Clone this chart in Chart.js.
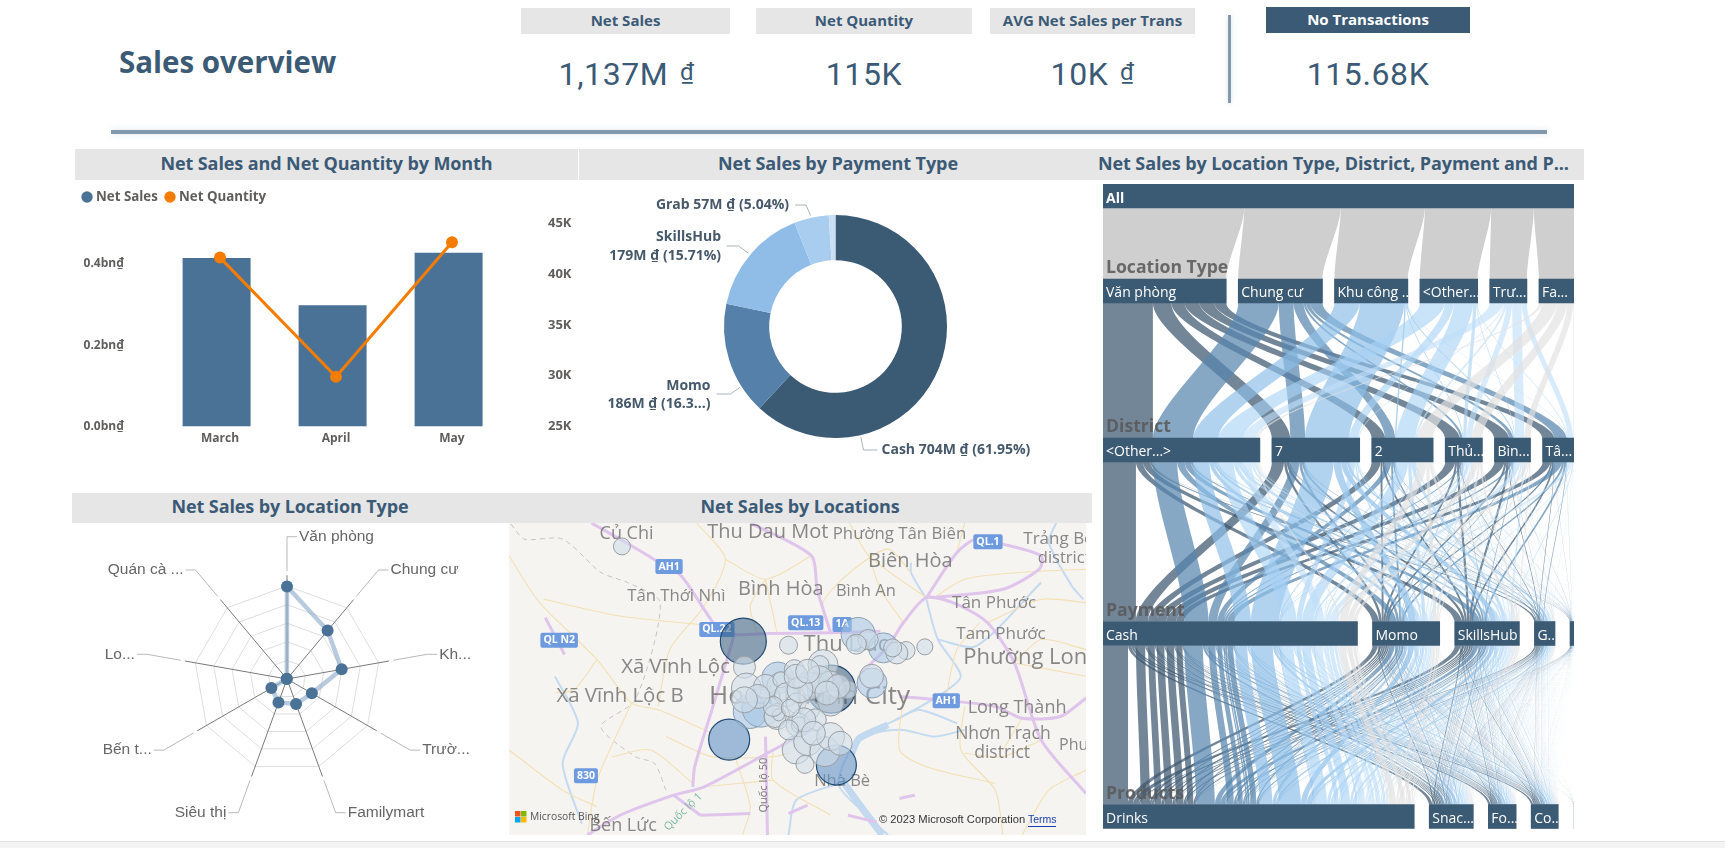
<!DOCTYPE html>
<html><head><meta charset="utf-8">
<script src="https://cdn.jsdelivr.net/npm/chart.js@4"></script>
<style>
html,body{margin:0;padding:0;background:#fff;width:1725px;height:848px;overflow:hidden}
body{position:relative;font-family:"Open Sans",sans-serif}
.a{position:absolute;white-space:nowrap}
.hd{background:#e6e6e6;color:#3b5a76;font-weight:700;text-align:center;font-size:18px;display:flex;align-items:center;justify-content:center;letter-spacing:-.1px;padding-bottom:4px;box-sizing:border-box}
.kh{background:#e6e6e6;color:#3b5a76;font-weight:700;text-align:center;font-size:15px;display:flex;align-items:center;justify-content:center;padding-bottom:2px;box-sizing:border-box}
.kv{color:#3b5a76;font-family:Roboto,sans-serif;font-size:32px;text-align:center;letter-spacing:.6px}
.kv span{font-size:24px;position:relative;top:-5px;margin-left:3px}
canvas{position:absolute;display:block}
</style></head><body>
<div class="a" style="left:119px;top:41px;color:#3b5a76;font-weight:700;font-size:29.5px">Sales overview</div>
<div class="a kh" style="left:521px;top:8px;width:209px;height:26px">Net Sales</div>
<div class="a kh" style="left:756px;top:8px;width:216px;height:26px">Net Quantity</div>
<div class="a kh" style="left:990px;top:8px;width:205px;height:26px">AVG Net Sales per Trans</div>
<div class="a kh" style="left:1266px;top:7px;width:204px;height:26px;background:#3b5a76;color:#fff">No Transactions</div>
<div class="a kv" style="left:521px;top:55px;width:209px;padding-left:2px;box-sizing:border-box">1,137M <span>₫</span></div>
<div class="a kv" style="left:756px;top:55px;width:216px">115K</div>
<div class="a kv" style="left:990px;top:55px;width:205px;box-sizing:border-box">10K <span>₫</span></div>
<div class="a kv" style="left:1266px;top:55px;width:204px">115.68K</div>
<div class="a" style="left:1228px;top:15px;width:3px;height:88px;background:#8299ad;box-shadow:0 0 5px rgba(130,153,173,.35)"></div>
<div class="a" style="left:111px;top:130px;width:1436px;height:4px;background:#8299ad;box-shadow:0 0 7px rgba(130,153,173,.3)"></div>
<div class="a hd" style="left:75px;top:149px;width:503px;height:31px">Net Sales and Net Quantity by Month</div>
<div class="a hd" style="left:579px;top:149px;width:513px;height:31px;padding-left:5px">Net Sales by Payment Type</div>
<div class="a hd" style="left:1091px;top:149px;width:493px;height:31px;justify-content:flex-start;padding-left:7px">Net Sales by Location Type, District, Payment and P...</div>
<div class="a hd" style="left:72px;top:493px;width:436px;height:30px">Net Sales by Location Type</div>
<div class="a hd" style="left:508px;top:493px;width:584px;height:30px">Net Sales by Locations</div>
<div class="a" style="left:0;top:841px;width:1725px;height:7px;background:#f3f3f3;border-top:1px solid #e2e2e2"></div>

<canvas id="combo" style="left:75px;top:185px" width="503" height="266"></canvas>
<canvas id="donut" style="left:580px;top:185px" width="510" height="280"></canvas>
<canvas id="radar" style="left:72px;top:523px" width="430" height="317"></canvas>
<canvas id="map" style="left:509px;top:523px" width="577" height="312"></canvas>
<canvas id="sankey" style="left:1103px;top:184px" width="471" height="645"></canvas>

<script>
/* ---------- data ---------- */
const months=['March','April','May'];
const netSalesBn=[0.414,0.298,0.427];
const netQuantity=[41600,29900,43100];

const paymentTypes=['Cash','Momo','SkillsHub','Grab','Other'];
const paymentSales=[704,186,179,57,11];
const paymentColors=['#3b5a74','#5580a9','#8fbde8','#a9cdef','#c9dff4'];

const locationTypes=['Văn phòng','Chung cư','Khu công nghiệp','Trường học','Familymart','Siêu thị','Bến tàu','Lobby','Quán cà phê'];
const locationShort=['Văn phòng','Chung cư','Kh...','Trườ...','Familymart','Siêu thị','Bến t...','Lo...','Quán cà ...'];
const locationSales=[338,231,203,105,97,91,66,1,1];
const radarTicks=[0,68,136,204,272,340];

const treeLocation=['Văn phòng','Chung cư','Khu công ...','<Other...','Trư...','Fa...'];
const treeLocationSales=[341,233,203,160,103,97];
const treeDistrict=['<Other...>','7','2','Thủ...','Bìn...','Tâ...'];
const treeDistrictSales=[434,243,170,103,100,87];
const treePayment=['Cash','Momo','SkillsHub','G...',''];
const treePaymentSales=[704,186,179,57,11];
const treeProduct=['Drinks','Snac...','Fo...','Co...',''];
const treeProductSales=[861,122,77,75,2];
const locationDistrict=[
 [138,51,37,41,41,33],
 [112,41,28,7,11,34],
 [70,123,4,2,3,1],
 [69,25,53,9,2,2],
 [37,3,6,16,26,15],
 [8,0,42,28,17,2]];
const locationPayment=[
 [.66,.14,.15,.04,.01],
 [.60,.18,.16,.05,.01],
 [.64,.17,.13,.05,.01],
 [.60,.17,.17,.05,.01],
 [.58,.18,.18,.05,.01],
 [.55,.20,.18,.06,.01]];
const paymentProduct=[
 [.76,.105,.07,.063,.002],
 [.75,.11,.065,.073,.002],
 [.75,.11,.07,.068,.002],
 [.74,.12,.06,.078,.002],
 [.78,.09,.06,.068,.002]];

/* map: coordinates in map units */
const bubblesDark=[{x:622,y:455,r:23},{x:852,y:598,r:24}];
const bubblesEdge=[{x:585,y:749,r:20.5},{x:865,y:825,r:20}];
const bubblesMid=[{x:922,y:435,r:17},{x:640,y:665,r:17},{x:668,y:655,r:19},{x:988,y:475,r:15},{x:712,y:565,r:16},{x:958,y:580,r:15}];
const bubblesPale=[
{x:305,y:172,r:8.5},{x:740,y:467,r:9},{x:1096,y:472,r:8},{x:1047,y:483,r:9},{x:1023,y:490,r:11},{x:1012,y:475,r:9},
{x:948,y:450,r:10},{x:917,y:464,r:10},{x:625,y:533,r:11},{x:957,y:560,r:12},
{x:630,y:595,r:15},{x:720,y:590,r:14},{x:680,y:590,r:12},{x:720,y:570,r:8},{x:755,y:540,r:10},
{x:830,y:525,r:15},{x:822,y:525,r:9},{x:800,y:585,r:12},{x:790,y:590,r:14},{x:850,y:580,r:12},{x:895,y:600,r:9},
{x:735,y:615,r:12},{x:760,y:640,r:10},{x:850,y:640,r:13},{x:795,y:660,r:10},{x:710,y:680,r:13},{x:705,y:680,r:11},
{x:714,y:675,r:6},{x:765,y:705,r:12},{x:768,y:705,r:8},{x:810,y:690,r:11},{x:760,y:780,r:14},{x:790,y:755,r:14},
{x:835,y:785,r:15},{x:850,y:740,r:14},{x:875,y:760,r:12},{x:783,y:823,r:9},{x:780,y:690,r:12},{x:820,y:570,r:14},
{x:870,y:590,r:12},{x:700,y:650,r:10},{x:660,y:620,r:12},{x:745,y:655,r:9},{x:625,y:630,r:13},{x:770,y:600,r:13},
{x:760,y:560,r:12},{x:790,y:545,r:12},{x:840,y:610,r:12},{x:740,y:720,r:10},{x:805,y:730,r:12}];
const waterways=[
 [[1100,330],[1130,450],[1190,560],[1130,620],[1020,690],[920,750],[870,880],[930,960],[1000,1034]],
 [[1100,330],[1060,250],[1060,220]],
 [[920,750],[960,730],[1040,720],[1120,740],[1200,720]],
 [[870,880],[760,930],[740,1034]],
 [[130,560],[190,700],[150,820],[200,1000]],
 [[1440,100],[1420,160],[1480,290],[1510,330]],
 [[1020,690],[1080,660],[1180,700]],
 [[1130,450],[1230,470],[1400,280]]];
const wideWater=[[[905,790],[925,745],[1000,705]],[[880,870],[930,950],[985,1034]]];
const highways=[
 [[225,102],[330,170],[395,215],[460,260],[550,410],[590,435],[690,432],[850,430],[980,425]],
 [[600,430],[540,660],[495,830],[490,890]],
 [[930,550],[1000,470],[1040,400],[1100,325],[1180,345],[1260,400],[1330,520],[1400,750],[1517,910]],
 [[1100,325],[1180,190],[1230,150],[1300,165],[1400,200],[1395,240],[1300,300],[1120,325]],
 [[1030,620],[1150,632],[1280,650],[1350,685],[1450,680],[1517,625]],
 [[215,1034],[300,975],[440,915],[520,890],[700,780],[800,720]],
 [[680,740],[685,1034]],
 [[510,975],[640,970]],[[740,970],[790,945]],[[895,975],[970,995]],[[1030,925],[1070,915]],
 [[105,385],[155,495]],
 [[640,102],[800,200],[815,300],[850,430]],
 [[440,915],[510,975]]];
const roads=[
 [[10,200],[90,340],[240,510],[330,640],[400,660],[540,730]],
 [[100,330],[300,380],[550,410]],
 [[240,510],[180,600],[130,610]],
 [[330,640],[240,870],[215,1034]],
 [[500,102],[575,210],[520,350],[430,480],[400,650]],
 [[575,210],[680,270],[800,200]],
 [[680,270],[710,430]],
 [[850,430],[830,340],[900,250],[1000,180],[1060,250]],
 [[900,102],[950,200],[1100,325]],
 [[1120,325],[1200,270],[1340,250],[1517,240]],
 [[1260,400],[1400,330],[1517,340]],
 [[1200,650],[1190,780],[1280,900],[1300,1034]],
 [[1040,625],[1030,780],[1100,830],[1280,880]],
 [[700,780],[700,870],[850,975]],
 [[420,740],[540,800],[700,800],[740,790]],
 [[1330,520],[1517,560]],
 [[1350,685],[1300,780]],
 [[1180,190],[1200,102]],
 [[1400,750],[1300,800],[1200,790]],
 [[10,780],[150,900],[240,950]],
 [[660,440],[640,350],[680,270]],
 [[1040,400],[980,300],[950,200]],
 [[1150,630],[1180,480],[1240,400]],
 [[490,880],[380,780],[280,800]],
 [[600,800],[640,950],[620,1034]],
 [[700,870],[520,890]],
 [[1350,1034],[1420,900],[1517,840]],
 [[1517,480],[1400,450],[1330,520]]];
const boundary=[[[15,105],[50,150],[150,150],[250,250],[320,280],[405,340],[340,630],[250,710],[340,800],[390,820],[420,900]]];
const mapLabels=[
 ['Củ Chi',317,135,18],['Thu Dau Mot',686,130,20],['Phường Tân Biên',1030,135,16.8],['Biên Hòa',1058,215,20],
 ['Trảng Bo',1446,150,17],['district',1460,207,16.5],['Tân Thới Nhì',447,320,16.7],['Bình Hòa',720,300,20],
 ['Bình An',942,305,16.5],['Tân Phước',1277,342,17],['Tam Phước',1295,433,17],['Phường Long',1374,505,22],
 ['Xã Vĩnh Lộc',445,533,20.4],['Xã Vĩnh Lộc B',300,618,20.4],['Ho Chi Minh City',795,622,26],['Thu Duc',890,465,22],
 ['Long Thành',1337,655,18],['Nhơn Trạch',1300,732,17.5],['district',1298,790,17.5],['Phu',1485,767,16],
 ['Nhà Bè',880,875,16.5],['Bến Lức',308,1008,18]];
const mapShields=[['AH1',428,232],['QL.1',1261,158],['QL.13',785,400],['QL.22',553,420],['QL N2',141,452],['1A',880,405],['AH1',1152,633],['830',211,857]];

/* ---------- shared ---------- */
Chart.defaults.animation=false;
Chart.defaults.responsive=false;
Chart.defaults.devicePixelRatio=1;
Chart.defaults.font.family='"Open Sans",sans-serif';
Chart.defaults.plugins.tooltip.enabled=false;
Chart.defaults.layout.autoPadding=false;
const GREY='#605e5c',NAVY='#3b5a76',SALES='#4a7296',ORANGE='#f47c00';

/* ---------- combo ---------- */
new Chart('combo',{
 data:{labels:months,datasets:[
  {type:'line',label:'Net Quantity',data:netQuantity,yAxisID:'y1',order:0,borderColor:ORANGE,backgroundColor:ORANGE,borderWidth:3,pointRadius:6,pointBackgroundColor:ORANGE,pointBorderWidth:0,tension:0},
  {type:'bar',label:'Net Sales',data:netSalesBn,yAxisID:'y',order:1,backgroundColor:SALES,barPercentage:1,categoryPercentage:.586}
 ]},
 options:{
  layout:{padding:{top:38,bottom:0}},
  plugins:{legend:{display:false}},
  scales:{
   x:{grid:{display:false,drawTicks:false},border:{display:false},ticks:{color:GREY,padding:5,font:{size:12,weight:'700'}}},
   y:{position:'left',min:0,max:.5,grid:{display:false,drawTicks:false},border:{display:false},
      afterFit(s){s.width=87;s.paddingTop=0;s.paddingBottom=0},
      afterBuildTicks(s){s.ticks=s.ticks.filter(t=>t.value<.45)},
      ticks:{stepSize:.2,padding:38,color:GREY,font:{size:12,weight:'700'},callback:v=>v.toFixed(1)+'bn₫'}},
   y1:{position:'right',min:25000,max:45000,grid:{display:false,drawTicks:false},border:{display:false},
      afterFit(s){s.width=68;s.paddingTop=0;s.paddingBottom=0},
      ticks:{stepSize:5000,padding:38,color:GREY,font:{size:13,weight:'700'},callback:v=>(v/1000)+'K'}}
  }
 },
 plugins:[{id:'legendRow',
  afterDatasetsUpdate(c){c.getDatasetMeta(1).data.forEach(b=>{b.x-=3.4;});},
  afterDraw(c){
   const g=c.ctx;g.save();g.font='700 13.3px "Open Sans",sans-serif';g.textBaseline='middle';g.textAlign='left';
   [[c.data.datasets[1],12,21],[c.data.datasets[0],95,104]].forEach(([d,mx,tx])=>{
     g.fillStyle=d.backgroundColor;g.beginPath();g.arc(mx,12,5.7,0,Math.PI*2);g.fill();
     g.fillStyle=GREY;g.fillText(d.label,tx,12);});
   g.restore();}}]
});

/* ---------- donut ---------- */
const donutNotes=[
 {ang:167.1,lines:['Cash 704M ₫ (61.95%)'],elbow:[28,123.5],end:[42,123.5],tx:[46,123.5],align:'left'},
 {ang:237.5,lines:['Momo','186M ₫ (16.3...)'],elbow:[-105,67.5],end:[-119,67.5],tx:[-125,59.5],align:'right',lh:18.5},
 {ang:310.1,lines:['SkillsHub','179M ₫ (15.71%)'],elbow:[-97,-80.5],end:[-109,-80.5],tx:[-114.5,-89.5],align:'right',lh:19},
 {ang:347.4,lines:['Grab 57M ₫ (5.04%)'],elbow:[-29.5,-121.5],end:[-40.5,-121.5],tx:[-46.5,-121.5],align:'right'}];
new Chart('donut',{
 type:'doughnut',
 data:{labels:paymentTypes,datasets:[{data:paymentSales,backgroundColor:paymentColors,borderWidth:0}]},
 options:{cutout:'59.5%',layout:{padding:{top:30,bottom:27,left:1,right:0}},plugins:{legend:{display:false}}},
 plugins:[{id:'notes',afterDatasetsDraw(c){
  const a=c.getDatasetMeta(0).data[0],g=c.ctx,cx=a.x,cy=a.y,R=a.outerRadius;
  g.save();g.font='700 14px "Open Sans",sans-serif';g.textBaseline='middle';
  donutNotes.forEach(n=>{
   const t=n.ang*Math.PI/180;
   g.strokeStyle='#a8b4be';g.lineWidth=1;g.beginPath();
   g.moveTo(cx+Math.sin(t)*(R+2),cy-Math.cos(t)*(R+2));
   g.lineTo(cx+n.elbow[0],cy+n.elbow[1]);g.lineTo(cx+n.end[0],cy+n.end[1]);g.stroke();
   g.fillStyle='#46596b';g.textAlign=n.align;
   n.lines.forEach((l,i)=>g.fillText(l,cx+n.tx[0],cy+n.tx[1]+i*(n.lh||0)));
  });
  g.restore();
 }}]
});

/* ---------- radar ---------- */
new Chart('radar',{
 type:'radar',
 data:{labels:locationTypes,datasets:[{data:locationSales,borderColor:'rgba(140,170,200,.62)',borderWidth:4.5,fill:false,
   pointRadius:6,pointBackgroundColor:SALES,pointBorderWidth:0,tension:0}]},
 options:{layout:{padding:{left:121.5,right:121.5,top:62.5,bottom:67.5}},plugins:{legend:{display:false}},
  scales:{r:{min:0,max:340,afterBuildTicks(s){s.ticks=radarTicks.map(v=>({value:v}))},
   grid:{color:'#dedede',lineWidth:1},angleLines:{display:false},ticks:{display:false},pointLabels:{display:false}}}},
 plugins:[{id:'spokes',beforeDatasetsDraw(c){
   const s=c.scales.r,g=c.ctx;g.save();g.strokeStyle='#7a7a7a';g.lineWidth=1;
   locationTypes.forEach((_,i)=>{const p=s.getPointPositionForValue(i,340*1.115);
     g.beginPath();g.moveTo(s.xCenter,s.yCenter);g.lineTo(p.x,p.y);g.stroke();});
   g.restore();},
  afterDatasetsDraw(c){
   const s=c.scales.r,g=c.ctx;g.save();g.strokeStyle='#b9b9b9';g.lineWidth=1;g.fillStyle='#666';
   g.font='15.5px "Liberation Sans",Arial,sans-serif';g.textBaseline='middle';
   locationShort.forEach((t,i)=>{
     const a=s.getPointPositionForValue(i,340*1.16),b=s.getPointPositionForValue(i,340*1.53);
     const right=i<=4,ex=b.x+(right?10:-10);
     g.beginPath();g.moveTo(a.x,a.y);g.lineTo(b.x,b.y);g.lineTo(ex,b.y);g.stroke();
     g.textAlign=right?'left':'right';g.fillText(t,ex+(right?2:-2),b.y);
   });g.restore();}}]
});

/* ---------- map ---------- */
const lineDs=(arr,color,w,order,dash)=>arr.map(l=>({type:'scatter',showLine:true,data:l.map(p=>({x:p[0],y:p[1]})),
  borderColor:color,borderWidth:w,pointRadius:0,order,tension:.25,borderDash:dash||[],clip:true,fill:false}));
new Chart('map',{
 data:{datasets:[
  {type:'bubble',data:bubblesPale,order:0,backgroundColor:'rgba(208,221,233,.62)',borderColor:'#9a9fa3',borderWidth:1},
  {type:'bubble',data:bubblesMid,order:1,backgroundColor:'rgba(160,195,228,.55)',borderColor:'#8ba0b2',borderWidth:1},
  {type:'bubble',data:bubblesEdge,order:2,backgroundColor:'rgba(95,145,198,.58)',borderColor:'#1f4a72',borderWidth:1.2},
  {type:'bubble',data:bubblesDark,order:3,backgroundColor:'rgba(50,90,125,.55)',borderColor:'#1f4a72',borderWidth:1.2},
  ...lineDs(highways,'#dfc4ec',3,10),
  ...lineDs(roads,'#f3e0b4',1.1,12),
  ...lineDs(boundary,'#c4c4c4',1,13,[5,4]),
  ...lineDs(wideWater,'#c3d9ef',7,14),
  ...lineDs(waterways,'#c3daf0',2,14)
 ]},
 options:{layout:{autoPadding:false,padding:0},plugins:{legend:{display:false}},
  scales:{x:{type:'linear',min:10,max:1517,display:false},y:{type:'linear',min:102,max:1034,reverse:true,display:false}}},
 plugins:[{id:'basemap',
  beforeDraw(c){const g=c.ctx;g.save();g.fillStyle='#f6f4f1';g.fillRect(0,0,c.width,c.height);g.restore();},
  beforeDatasetDraw(c,args){
   if(args.index!==3)return;
   const g=c.ctx,X=c.scales.x,Y=c.scales.y;g.save();
   g.beginPath();g.rect(0,0,c.width,c.height);g.clip();
   g.textAlign='center';g.textBaseline='middle';
   mapLabels.forEach(l=>{g.fillStyle='rgba(115,115,115,.85)';g.font=l[3]+'px "Open Sans",sans-serif';
     g.fillText(l[0],X.getPixelForValue(l[1]),Y.getPixelForValue(l[2]));});
   g.save();g.translate(X.getPixelForValue(675),Y.getPixelForValue(885));g.rotate(-Math.PI/2);
   g.font='11px "Open Sans",sans-serif';g.fillStyle='#777';g.fillText('Quốc lộ 50',0,0);g.restore();
   g.save();g.translate(X.getPixelForValue(465),Y.getPixelForValue(965));g.rotate(-Math.PI/4);
   g.font='11px "Open Sans",sans-serif';g.fillStyle='#7bb8a0';g.fillText('Quốc lộ 1',0,0);g.restore();
   mapShields.forEach(s=>{g.font='700 10.5px "Open Sans",sans-serif';
     const w=g.measureText(s[0]).width+6,x=X.getPixelForValue(s[1]),y=Y.getPixelForValue(s[2]);
     g.fillStyle='#6e9be0';g.beginPath();g.roundRect(x-w/2,y-7.5,w,15,2);g.fill();
     g.fillStyle='#fff';g.fillText(s[0],x,y);});
   g.restore();},
  afterDraw(c){
   const g=c.ctx;g.save();
   const oy=c.height-24;
   [['#f25022',6,0],['#7fba00',12,0],['#00a4ef',6,6],['#ffb900',12,6]].forEach(s=>{g.fillStyle=s[0];g.fillRect(s[1],oy+s[2],5.5,5.5);});
   g.fillStyle='#555';g.font='10.3px "Open Sans",sans-serif';g.textBaseline='middle';g.textAlign='left';
   g.fillText('Microsoft Bing',21,oy+6);
   g.fillStyle='#333';g.font='11.2px "Liberation Sans",Arial,sans-serif';
   g.fillText('© 2023 Microsoft Corporation',370,c.height-15.5);
   g.fillStyle='#1a3fb0';g.font='10.5px "Liberation Sans",Arial,sans-serif';g.fillText('Terms',519,c.height-15);
   g.fillRect(519,c.height-9,28,1);
   g.restore();}}]
});

/* ---------- decomposition ribbons ---------- */
const levelCentres=[12,107,266,449.5,632.5];   // along the tree's depth axis
const levelNames=[null,'Location Type','District','Payment','Products'];
const axisTotal=1303;
const levelValues=[[axisTotal],treeLocationSales,treeDistrictSales,treePaymentSales,treeProductSales];
const levelText=[['All'],treeLocation,treeDistrict,treePayment,treeProduct];
const ribbonColors=['rgba(59,88,112,.72)','rgba(88,134,175,.72)','rgba(140,190,232,.68)','rgba(168,210,245,.62)','rgba(192,222,248,.62)','rgba(226,226,226,.68)'];
const nodeStart=levelValues.map(v=>{const s=v.reduce((a,b)=>a+b,0),gap=v.length>1?(axisTotal-s)/(v.length-1):0;let x=0;return v.map(w=>{const r=x;x+=w+gap;return r;});});
const paths=[];
locationDistrict.forEach((row,l)=>row.forEach((ld,d)=>locationPayment[l].forEach((ps,p)=>paymentProduct[p].forEach((qs,q)=>{
  const v=ld*ps*qs; if(v>0)paths.push({k:[0,l,d,p,q],l,v});
}))));
const sums=levelValues.map(v=>v.map(()=>0));
paths.forEach(pt=>pt.k.forEach((n,lv)=>sums[lv][n]+=pt.v));
const cursor=nodeStart.map(a=>a.slice());
paths.forEach(pt=>{pt.a=[];pt.w=[];pt.k.forEach((n,lv)=>{const w=pt.v*levelValues[lv][n]/sums[lv][n];pt.a[lv]=cursor[lv][n];pt.w[lv]=w;cursor[lv][n]+=w;});});
function ribbons(level){
  const m=new Map();
  paths.forEach(pt=>{
    const key=pt.k.slice(1,level+2).join('-');let r=m.get(key);
    if(!r){r={l:pt.l,a0:pt.a[level],b0:pt.a[level]+pt.w[level],a1:pt.a[level+1],b1:pt.a[level+1]+pt.w[level+1]};m.set(key,r);}
    else{r.b0=pt.a[level]+pt.w[level];r.b1=pt.a[level+1]+pt.w[level+1];}
  });
  return [...m.values()];
}
const nodeBars=[];
levelValues.forEach((v,lv)=>v.forEach((w,i)=>nodeBars.push({y:levelCentres[lv],x:[nodeStart[lv][i],nodeStart[lv][i]+w],lv,i})));
new Chart('sankey',{
 type:'bar',
 data:{datasets:[{data:nodeBars,backgroundColor:ctx=>{const d=ctx.raw;return d&&d.lv===4&&d.i===4?'#d9dfe5':'#3b5a74'},barThickness:24,grouped:false}]},
 options:{indexAxis:'y',plugins:{legend:{display:false}},
  scales:{x:{type:'linear',min:0,max:axisTotal,display:false,offset:false},y:{type:'linear',min:0,max:645,reverse:true,display:false,offset:false}}},
 plugins:[{id:'ribbons',
  beforeDatasetsDraw(c){
   const g=c.ctx,X=c.scales.x,Y=c.scales.y;g.save();
   for(let lv=0;lv<4;lv++){
    const y0=Y.getPixelForValue(levelCentres[lv])+12,y1=Y.getPixelForValue(levelCentres[lv+1])-12,h=(y1-y0)*.25;
    ribbons(lv).forEach(r=>{
     g.fillStyle=lv===0?'#cfcfcf':ribbonColors[r.l];
     const a0=X.getPixelForValue(r.a0),b0=X.getPixelForValue(r.b0),a1=X.getPixelForValue(r.a1),b1=X.getPixelForValue(r.b1);
     g.beginPath();g.moveTo(a0,y0);g.bezierCurveTo(a0,y0+h,a1,y1-h,a1,y1);g.lineTo(b1,y1);g.bezierCurveTo(b1,y1-h,b0,y0+h,b0,y0);g.closePath();g.fill();
    });
   }
   g.restore();},
  afterDatasetsDraw(c){
   const g=c.ctx,X=c.scales.x,Y=c.scales.y;g.save();g.textBaseline='middle';g.textAlign='left';
   levelNames.forEach((n,lv)=>{ if(!n)return;
     g.font='700 17.6px "Open Sans",sans-serif';g.fillStyle='rgba(90,90,90,.88)';
     g.fillText(n,3,Y.getPixelForValue(levelCentres[lv])-23);});
   nodeBars.forEach(b=>{const t=levelText[b.lv][b.i];if(!t)return;
     g.fillStyle='#fff';g.font=(b.lv===0?'700 ':'')+'14px "Open Sans",sans-serif';
     g.fillText(t,X.getPixelForValue(b.x[0])+3,Y.getPixelForValue(b.y)+(b.lv===0?3:2.5));});
   g.restore();}}]
});
</script>
</body></html>
